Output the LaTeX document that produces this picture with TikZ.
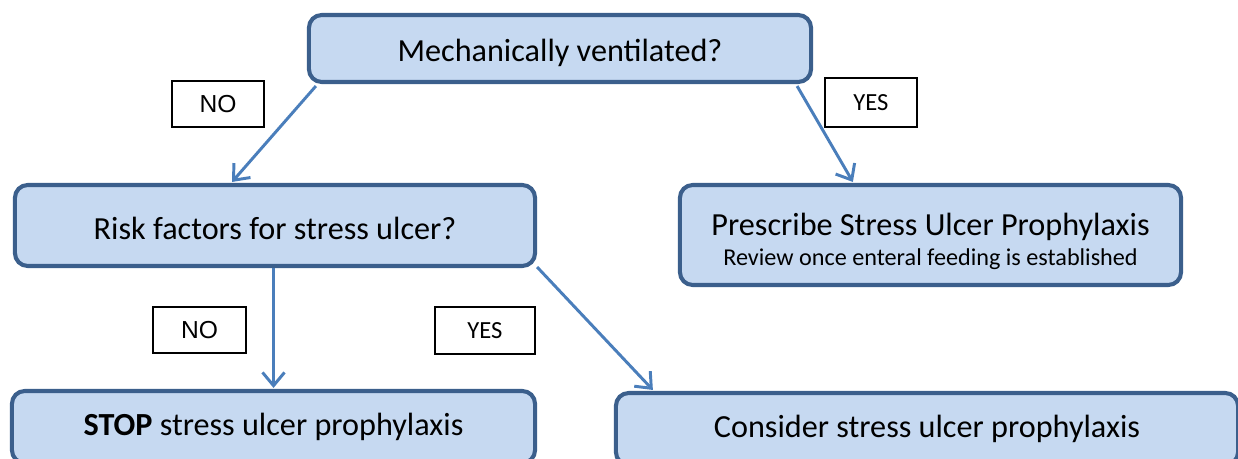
\documentclass[tikz,border=0pt]{standalone}
\usepackage{tikz}
\usepackage{xcolor}
\usepackage{fontspec}
\setmainfont{Carlito}
\newfontfamily\arialfont{Liberation Sans}
\usetikzlibrary{calc,
	positioning,
	shapes,
	arrows.meta}
\definecolor{boxfill}{HTML}{C6D9F1}
\definecolor{boxline}{HTML}{3B5F8C}
\definecolor{arrline}{HTML}{4A7EBB}
\tikzstyle{qbox}=[draw=boxline, fill=boxfill, line width=2.9pt, rounded corners=0.32cm, inner sep=0, align=center, font=\fontsize{22.9}{27}\selectfont]
\tikzstyle{lbl}=[draw=black, line width=0.9pt, inner sep=0, font=\fontsize{17.5}{20}\selectfont]
\tikzstyle{arr}=[draw=arrline, line width=2.1pt, -{Straight Barb[length=0.33cm, width=0.55cm, line width=2.1pt]}]

\begin{document}
\begin{tikzpicture}[x=0.025cm, y=-0.025cm]
                \useasboundingbox (0,0) rectangle (1238,459);
                % decision boxes
                \node[qbox, minimum width=12.55cm, minimum height=1.675cm] (vent) at (560,48.5) {\raisebox{-3.2pt}[\height][\depth]{Mechanically ventilated?}};
                \node[qbox, minimum width=13cm, minimum height=2.025cm] (risk) at (275,225.5) {\raisebox{-2.1pt}[\height][\depth]{Risk factors for stress ulcer?}};
                \node[qbox, minimum width=12.525cm, minimum height=2.5cm] (presc) at (930.5,235) {\raisebox{-5.7pt}[\height][\depth]{\begin{tabular}{@{}c@{}}Prescribe Stress Ulcer Prophylaxis\\[-6pt]{\fontsize{17.2}{20}\selectfont Review once enteral feeding is established}\end{tabular}}};
                \node[qbox, minimum width=13.075cm, minimum height=1.8cm] (stop) at (273.5,427) {\textbf{STOP} stress ulcer prophylaxis};
                \node[qbox, minimum width=15.55cm, minimum height=1.8cm] (consid) at (927,429) {Consider stress ulcer prophylaxis};
                % answer labels
                \node[lbl, font=\arialfont\fontsize{17.5}{20}\selectfont, minimum width=2.3cm, minimum height=1.15cm] (no1) at (218,104) {NO};
                \node[lbl, minimum width=2.3cm, minimum height=1.225cm] (yes1) at (871,102.5) {YES};
                \node[lbl, font=\arialfont\fontsize{17.5}{20}\selectfont, minimum width=2.325cm, minimum height=1.15cm] (no2) at (199.5,330) {NO};
                \node[lbl, minimum width=2.5cm, minimum height=1.175cm] (yes2) at (485,330.5) {YES};
                % connectors
                \draw[arr] ($(vent.south west)+(9,2)$) -- ($(risk.north)+(-43,-1)$);
                \draw[arr] ($(vent.south east)+(-16,2)$) -- ($(presc.north west)+(175,-1)$);
                \draw[arr] (risk.south -| stop.north) -- ($(stop.north)+(0,-1)$);
                \draw[arr] ($(risk.south east)+(0,-1)$) -- ($(consid.north west)+(39,-1)$);
\end{tikzpicture}
\end{document}
